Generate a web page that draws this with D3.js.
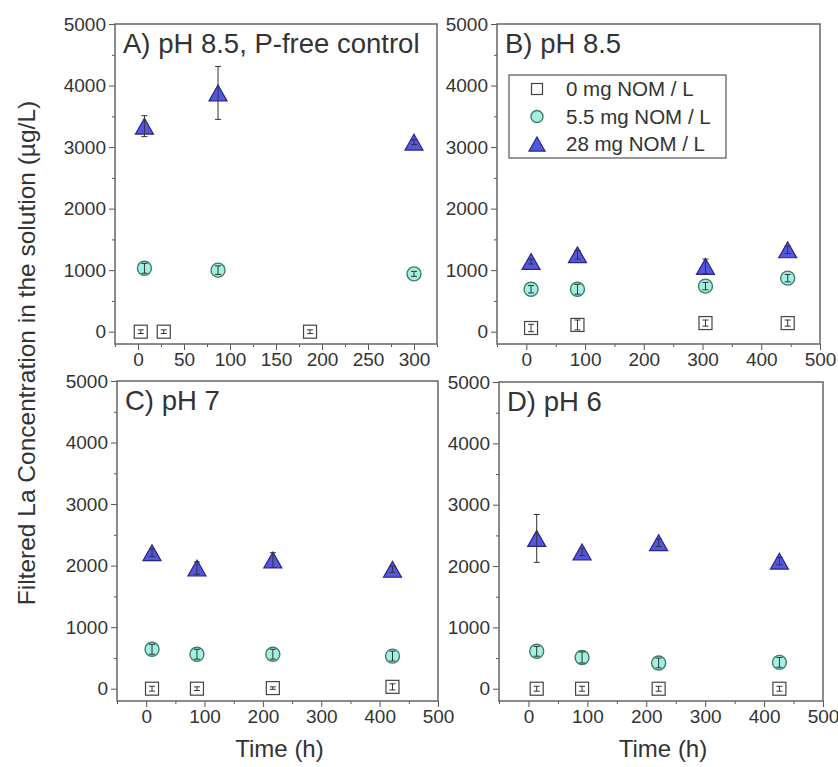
<!DOCTYPE html>
<html>
<head>
<meta charset="utf-8">
<script src="https://cdn.jsdelivr.net/npm/d3@7"></script>
<style>
  body { margin: 0; background: #fff; }
  svg { display: block; font-family: "Liberation Sans", Arial, sans-serif; }
</style>
</head>
<body>
<div class="container"></div>
<script>
// series names (legend)
const seriesNames = ["0 mg NOM / L", "5.5 mg NOM / L", "28 mg NOM / L"];
const panelTitles = ["A) pH 8.5, P-free control", "B) pH 8.5", "C) pH 7", "D) pH 6"];

// A) pH 8.5, P-free control
const timeA0 = [3, 28, 187];
const concA0 = [0, 0, 0];
const errA0 = [30, 30, 30];
const timeA1 = [7, 87, 300];
const concA1 = [1030, 1000, 940];
const errA1 = [80, 70, 40];
const timeA2 = [7, 87, 300];
const concA2 = [3340, 3880, 3080];
const errA2 = [170, 430, 40];

// B) pH 8.5
const timeB = [8, 87, 305, 445];
const concB0 = [60, 110, 140, 140];
const errB0 = [60, 80, 50, 50];
const concB1 = [690, 690, 740, 870];
const errB1 = [60, 80, 60, 60];
const concB2 = [1140, 1250, 1060, 1330];
const errB2 = [40, 70, 120, 60];

// C) pH 7
const timeC = [10, 87, 217, 422];
const concC0 = [0, 0, 10, 30];
const errC0 = [40, 30, 20, 50];
const concC1 = [640, 560, 560, 530];
const errC1 = [80, 80, 80, 80];
const concC2 = [2210, 1960, 2090, 1940];
const errC2 = [60, 100, 120, 50];

// D) pH 6
const timeD = [14, 91, 221, 426];
const concD0 = [0, 0, 0, 0];
const errD0 = [40, 40, 40, 40];
const concD1 = [610, 510, 420, 430];
const errD1 = [80, 90, 80, 80];
const concD2 = [2450, 2230, 2380, 2080];
const errD2 = [390, 60, 60, 60];

const xTicksA = [0, 50, 100, 150, 200, 250, 300];
const xTicksBCD = [0, 100, 200, 300, 400, 500];
const yTicks = [0, 1000, 2000, 3000, 4000, 5000];

const zip = (t, c, e) => t.map((d, i) => ({t: d, c: c[i], e: e[i]}));

const panels = [
  {title: panelTitles[0], box: [115, 437, 24, 344], xd: [-25, 325], xt: xTicksA, minor: 25,
   series: [zip(timeA0, concA0, errA0), zip(timeA1, concA1, errA1), zip(timeA2, concA2, errA2)], legend: false},
  {title: panelTitles[1], box: [497, 820, 24, 344], xd: [-50, 500], xt: xTicksBCD, minor: 50,
   series: [zip(timeB, concB0, errB0), zip(timeB, concB1, errB1), zip(timeB, concB2, errB2)], legend: true},
  {title: panelTitles[2], box: [117, 438, 381, 701], xd: [-50, 500], xt: xTicksBCD, minor: 50,
   series: [zip(timeC, concC0, errC0), zip(timeC, concC1, errC1), zip(timeC, concC2, errC2)], legend: false, xlabel: true},
  {title: panelTitles[3], box: [499, 823, 382, 701], xd: [-50, 500], xt: xTicksBCD, minor: 50,
   series: [zip(timeD, concD0, errD0), zip(timeD, concD1, errD1), zip(timeD, concD2, errD2)], legend: false, xlabel: true}
];

const styles = [
  {shape: "square", fill: "#ffffff", stroke: "#444", size: 13},
  {shape: "circle", fill: "#a4efe4", stroke: "#3a7f62", size: 14},
  {shape: "triangle", fill: "#5556de", stroke: "#25268c", size: 18}
];

const svg = d3.select("div.container").append("svg")
  .attr("width", 838).attr("height", 767);

function marker(g, st, x, y, s) {
  if (st.shape === "square") {
    g.append("rect").attr("x", x - s / 2).attr("y", y - s / 2).attr("width", s).attr("height", s)
      .attr("fill", st.fill).attr("stroke", st.stroke).attr("stroke-width", 1.2);
  } else if (st.shape === "circle") {
    g.append("circle").attr("cx", x).attr("cy", y).attr("r", s / 2)
      .attr("fill", st.fill).attr("stroke", st.stroke).attr("stroke-width", 1.4);
  } else {
    const h = s * 0.88;
    g.append("path").attr("d", `M${x},${y - h / 2}L${x + s / 2},${y + h / 2}L${x - s / 2},${y + h / 2}Z`)
      .attr("fill", st.fill).attr("stroke", st.stroke).attr("stroke-width", 1.2);
  }
}

panels.forEach(p => {
  const [l, r, t, b] = p.box;
  const x = d3.scaleLinear().domain(p.xd).range([l, r]);
  const y = d3.scaleLinear().domain([-200, 5000]).range([b, t]);
  const g = svg.append("g");

  // y axis
  const ya = g.append("g").attr("transform", `translate(${l},0)`)
    .call(d3.axisLeft(y).tickValues(yTicks).tickSize(6).tickPadding(3).tickFormat(d3.format("d")));
  ya.append("g").call(d3.axisLeft(y).tickValues(d3.range(500, 5000, 1000)).tickSize(3).tickFormat(""));
  // x axis
  const xa = g.append("g").attr("transform", `translate(0,${b})`)
    .call(d3.axisBottom(x).tickValues(p.xt).tickSize(6).tickPadding(3).tickFormat(d3.format("d")));
  const minors = d3.range(p.xd[0], p.xd[1] + 1, p.minor).filter(v => !p.xt.includes(v) && v % (p.minor * 2) !== 0);
  xa.append("g").call(d3.axisBottom(x).tickValues(minors).tickSize(3).tickFormat(""));
  g.selectAll(".domain").remove();
  g.selectAll(".tick line").attr("stroke", "#555");
  g.selectAll(".tick text").attr("fill", "#333").style("font-size", "19px");

  // frame
  g.append("rect").attr("x", l).attr("y", t).attr("width", r - l).attr("height", b - t)
    .attr("fill", "none").attr("stroke", "#666").attr("stroke-width", 1.5);

  // data
  p.series.forEach((s, si) => {
    const st = styles[si];
    const sg = g.append("g");
    s.forEach(d => marker(sg, st, x(d.t), y(d.c), st.size));
    s.forEach(d => {
      const cx = x(d.t), y1 = y(d.c - d.e), y2 = y(d.c + d.e);
      sg.append("line").attr("x1", cx).attr("x2", cx).attr("y1", y1).attr("y2", y2)
        .attr("stroke", "#333").attr("stroke-width", 1);
      [y1, y2].forEach(yy => sg.append("line").attr("x1", cx - 3).attr("x2", cx + 3)
        .attr("y1", yy).attr("y2", yy).attr("stroke", "#333").attr("stroke-width", 1));
    });
  });

  // title
  g.append("text").attr("x", l + 8).attr("y", t + 29).attr("fill", "#333")
    .style("font-size", "27.5px").text(p.title);

  if (p.legend) {
    const lg = g.append("g");
    lg.append("rect").attr("x", 509).attr("y", 75).attr("width", 217).attr("height", 83)
      .attr("fill", "#fff").attr("stroke", "#555").attr("stroke-width", 1.2);
    seriesNames.forEach((n, i) => {
      const yy = 89 + i * 27.5;
      marker(lg, styles[i], 537, yy, [11, 12, 16][i]);
      lg.append("text").attr("x", 566).attr("y", yy).attr("dy", "0.35em")
        .attr("fill", "#333").style("font-size", "20.5px").text(n);
    });
  }

  if (p.xlabel) {
    g.append("text").attr("x", (l + r) / 2 + 2).attr("y", 757).attr("text-anchor", "middle")
      .attr("fill", "#333").style("font-size", "24px").text("Time (h)");
  }
});

svg.append("text").attr("transform", "translate(35,353) rotate(-90)")
  .attr("text-anchor", "middle").attr("fill", "#333").style("font-size", "24.5px")
  .text("Filtered La Concentration in the solution  (µg/L)");
</script>
</body>
</html>
